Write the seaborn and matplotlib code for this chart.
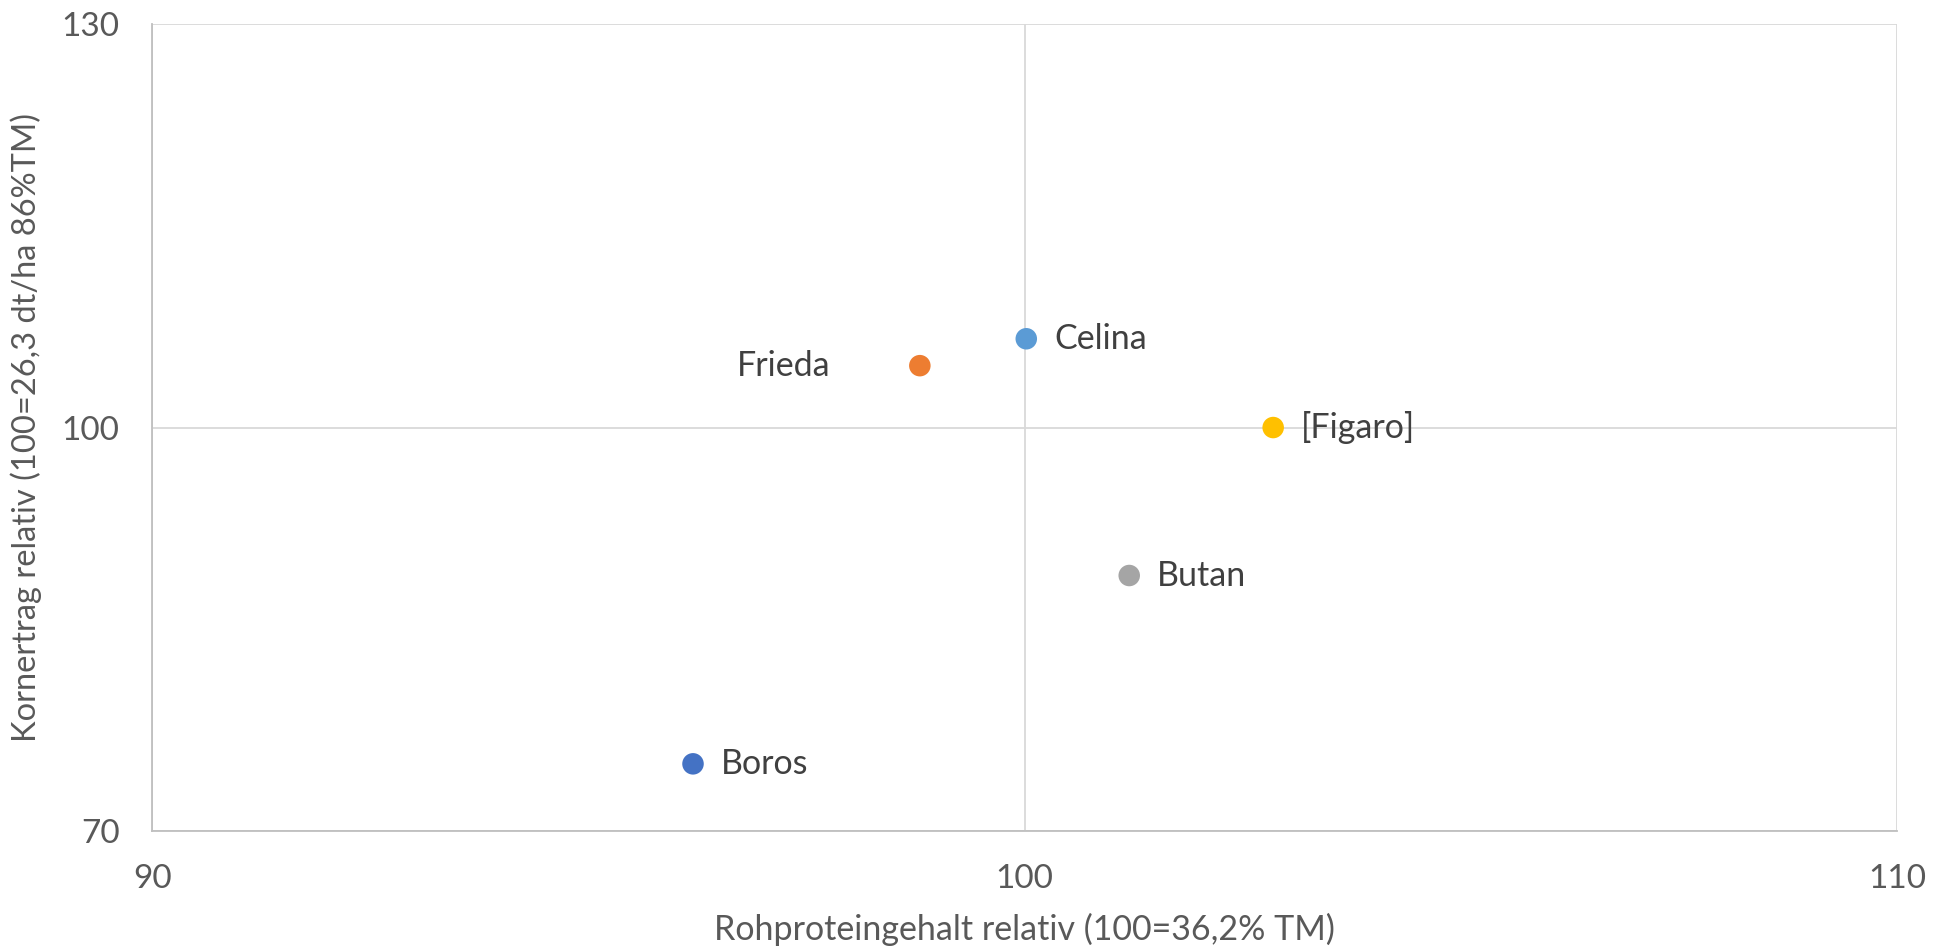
import matplotlib.pyplot as plt
import pandas as pd
import seaborn as sns

varieties = ["Celina", "Frieda", "[Figaro]", "Butan", "Boros"]
protein_rel = [100.02, 98.8, 102.85, 101.2, 96.2]
yield_rel = [106.6, 104.6, 100.0, 89.0, 75.0]
colors = ["#5B9BD5", "#ED7D31", "#FFC000", "#A5A5A5", "#4472C4"]
label_side = ["right", "left", "right", "right", "right"]

x_ticks = [90, 100, 110]
y_ticks = [70, 100, 130]


def main() -> None:
    df = pd.DataFrame({"sorte": varieties, "protein": protein_rel, "ertrag": yield_rel})

    sns.set_style("white")
    plt.rcParams["font.family"] = ["Lato", "DejaVu Sans"]

    fig = plt.figure(figsize=(19.5, 9.52), dpi=100)
    ax = fig.add_axes([0.078, 0.127, 0.8948, 0.8478])

    sns.scatterplot(
        data=df, x="protein", y="ertrag", hue="sorte",
        palette=dict(zip(varieties, colors)), s=240, linewidth=0,
        legend=False, ax=ax, zorder=3,
    )

    for name, x, y, side in zip(varieties, protein_rel, yield_rel, label_side):
        dx = 20 if side == "right" else -64
        ax.annotate(name, (x, y), xytext=(dx, 0), textcoords="offset points",
                    ha="left" if side == "right" else "right", va="center",
                    fontsize=24.5, color="#404040")

    ax.set_xlim(90, 110)
    ax.set_ylim(70, 130)
    ax.set_xticks(x_ticks)
    ax.set_yticks(y_ticks)
    ax.grid(True, color="#D9D9D9", linewidth=1.3, zorder=0)
    ax.set_axisbelow(True)

    for side in ["top", "right"]:
        ax.spines[side].set_visible(False)
    for side in ["left", "bottom"]:
        ax.spines[side].set_color("#BFBFBF")
        ax.spines[side].set_linewidth(1.3)

    ax.tick_params(axis="both", length=8.5, width=1.3, color="#BFBFBF",
                   labelsize=24, labelcolor="#595959", pad=15)

    ax.set_xlabel("Rohproteingehalt relativ (100=36,2% TM)", fontsize=24.5, color="#595959", labelpad=14)
    ax.set_ylabel("Kornertrag relativ (100=26,3 dt/ha 86%TM)", fontsize=23.5, color="#595959", labelpad=14)

    fig.savefig("out.png", dpi=100)
    plt.close(fig)


if __name__ == "__main__":
    main()
